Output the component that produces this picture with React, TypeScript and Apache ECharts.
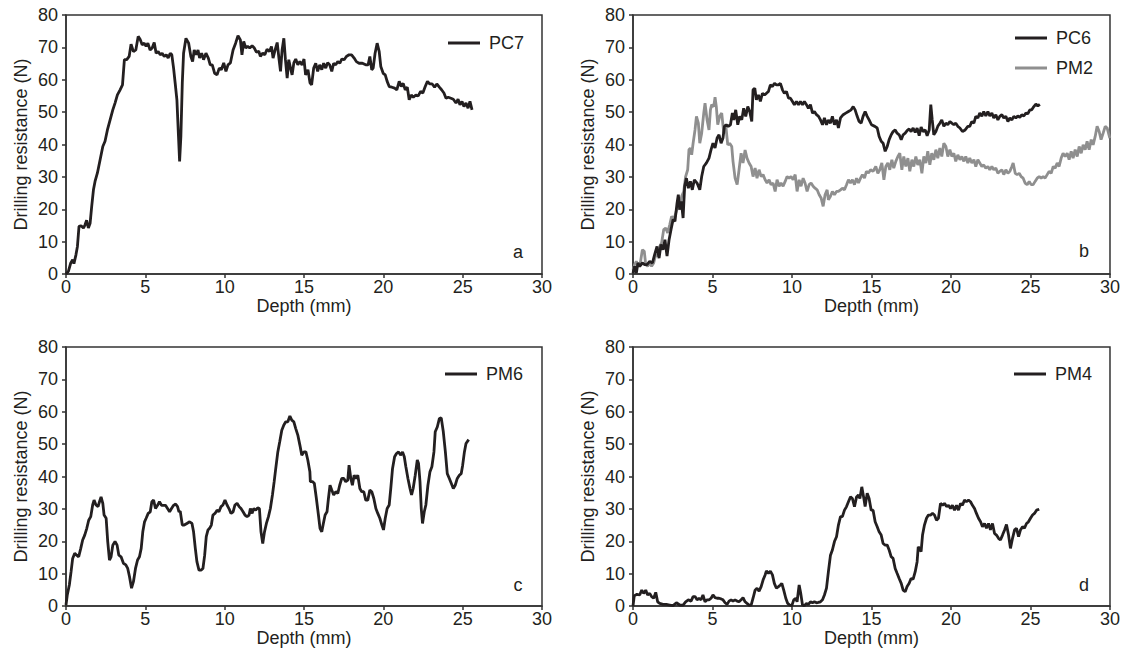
import React, { useEffect, useRef } from "react";
import * as echarts from "echarts";

// Depth (mm), drilling resistance (N)
const pc7: number[][] = [
  [0, 0], [0.15, 0.8], [0.3, 3.4], [0.42, 4.4], [0.5, 3.2], [0.63, 6], [0.72, 8.5], [0.82, 14.7], [0.95, 14.9],
  [1.1, 14.2], [1.2, 15.2], [1.3, 16.6], [1.41, 14.2], [1.52, 15.7], [1.62, 20.9], [1.73, 26], [1.83, 28.6],
  [1.98, 31.2], [2.15, 35.3], [2.32, 39.4], [2.46, 41], [2.61, 44.5], [2.78, 47.6], [2.95, 50.7], [3.09, 52.8],
  [3.24, 55.3], [3.41, 56.9], [3.56, 58.4], [3.68, 66.2], [3.83, 66.2], [3.98, 67.2], [4.1, 71], [4.25, 68.7],
  [4.4, 69.2], [4.55, 73.4], [4.67, 72.5], [4.8, 70.8], [4.93, 71.3], [5.05, 70.3], [5.16, 71.3], [5.3, 69.2],
  [5.43, 69.8], [5.56, 71.5], [5.68, 68.2], [5.81, 68.7], [5.94, 67.7], [6.06, 68.2], [6.19, 67.2], [6.32, 67.7],
  [6.44, 66.7], [6.57, 68.2], [6.67, 67.7], [6.78, 63.6], [6.88, 59], [6.99, 53.8], [7.09, 42.5], [7.16, 34.8],
  [7.24, 42.5], [7.33, 59], [7.41, 68.2], [7.56, 72.8], [7.73, 71.3], [7.87, 67.2], [7.98, 65.6], [8.08, 69.2],
  [8.21, 67.7], [8.32, 69.2], [8.42, 66.7], [8.55, 68.2], [8.67, 66.2], [8.82, 68.2], [8.97, 66.7], [9.09, 64.6],
  [9.22, 64.6], [9.37, 62], [9.52, 61.5], [9.66, 63.6], [9.79, 63.1], [9.94, 65.2], [10.08, 62.6], [10.21, 64.6],
  [10.36, 65.2], [10.53, 69.2], [10.69, 71.3], [10.84, 73.6], [10.99, 72.3], [11.09, 67.7], [11.2, 71.8],
  [11.33, 69.8], [11.45, 70.3], [11.58, 69.8], [11.73, 70.5], [11.87, 69.8], [12.0, 68.5], [12.15, 68.8],
  [12.25, 67.2], [12.4, 68.2], [12.53, 67.7], [12.67, 69.4], [12.82, 68.7], [12.95, 70.3], [13.05, 66.7],
  [13.18, 69.2], [13.31, 71.5], [13.43, 66.2], [13.52, 62.6], [13.62, 69.2], [13.73, 72.8], [13.83, 66.2],
  [13.94, 60.5], [14.04, 66.2], [14.15, 63.6], [14.25, 61.5], [14.36, 65.2], [14.48, 66.4], [14.61, 64.6],
  [14.74, 65.6], [14.88, 64.6], [15.0, 66.4], [15.1, 61.5], [15.25, 63.1], [15.38, 59], [15.48, 58.4],
  [15.61, 63.6], [15.74, 65.1], [15.86, 62.6], [15.99, 64.6], [16.12, 63.1], [16.24, 65.1], [16.37, 63.6],
  [16.49, 65.3], [16.62, 64.6], [16.75, 62.6], [16.87, 65.1], [17.0, 64.6], [17.13, 65.6], [17.26, 65.1],
  [17.38, 66.4], [17.53, 66.2], [17.67, 67.2], [17.84, 67.7], [18.0, 67.7], [18.16, 66.7], [18.3, 65.6],
  [18.47, 65.1], [18.68, 65.1], [18.89, 64.6], [19.04, 64.6], [19.15, 67.2], [19.27, 63.1], [19.36, 63.6],
  [19.48, 68.2], [19.61, 71.3], [19.74, 68.7], [19.84, 64.1], [19.99, 62], [20.12, 61.5], [20.24, 59.5],
  [20.37, 57.9], [20.54, 57.7], [20.71, 57.4], [20.85, 56.9], [21.0, 59.5], [21.13, 57.9], [21.25, 58.9],
  [21.38, 56.9], [21.51, 57.7], [21.63, 53.8], [21.76, 55.3], [21.89, 54.6], [22.05, 55.3], [22.2, 55],
  [22.35, 56.4], [22.49, 55.9], [22.64, 57.9], [22.78, 59.5], [22.93, 58.7], [23.08, 58.7], [23.23, 57.7],
  [23.37, 58.7], [23.53, 57.7], [23.67, 56.9], [23.82, 55.9], [23.95, 54.3], [24.09, 54.6], [24.26, 54.3],
  [24.41, 54], [24.58, 52.8], [24.71, 54], [24.83, 52.3], [24.96, 53.3], [25.08, 51.7], [25.21, 52.8],
  [25.34, 51.2], [25.46, 53.3], [25.59, 50.7],
];

const pc6: number[][] = [
  [0, 0.3], [0.1, 2.4], [0.21, 0.3], [0.31, 3.4], [0.42, 2.4], [0.59, 3.4], [0.73, 2.9], [0.88, 2.9], [1.05, 3.9],
  [1.22, 3.4], [1.36, 6], [1.51, 8.5], [1.64, 4.9], [1.76, 9.1], [1.89, 7.5], [2.01, 10.6], [2.14, 5.5],
  [2.27, 10.6], [2.39, 13.7], [2.52, 16.8], [2.64, 16.3], [2.77, 21.9], [2.85, 24.5], [2.94, 19.9], [3.04, 22.4],
  [3.15, 17.3], [3.25, 27.1], [3.36, 29.6], [3.48, 26.5], [3.61, 28.6], [3.73, 26], [3.86, 29.1], [4.03, 28.1],
  [4.2, 26], [4.32, 30.1], [4.45, 33.2], [4.62, 34.3], [4.78, 35.8], [4.91, 38.4], [5.03, 40.4], [5.16, 38.9],
  [5.29, 42], [5.41, 43], [5.54, 40.4], [5.66, 42], [5.75, 45.6], [5.87, 46.1], [5.99, 45.6], [6.13, 46.1],
  [6.25, 49.7], [6.34, 47.6], [6.46, 50.7], [6.59, 46.1], [6.71, 48.7], [6.84, 47.6], [6.96, 51.2], [7.09, 48.7],
  [7.22, 51.7], [7.34, 50.2], [7.47, 47.1], [7.55, 56.9], [7.66, 57.4], [7.76, 53.8], [7.89, 55.3], [8.01, 53.3],
  [8.14, 55.8], [8.27, 55.3], [8.39, 55.8], [8.52, 56.4], [8.64, 58.4], [8.77, 57.9], [8.9, 58.9], [9.02, 58.4],
  [9.15, 58.4], [9.27, 58.9], [9.4, 56.9], [9.52, 55.8], [9.65, 56.4], [9.78, 54.3], [9.9, 54.3], [10.03, 53.3],
  [10.15, 52.3], [10.28, 53.3], [10.41, 52.3], [10.53, 53.3], [10.66, 52.3], [10.78, 53.3], [10.91, 52.3],
  [11.03, 51.2], [11.16, 52.3], [11.29, 49.7], [11.41, 50.2], [11.54, 49.2], [11.67, 48.7], [11.79, 47.6],
  [11.92, 46.1], [12.04, 48.2], [12.17, 46.1], [12.29, 47.6], [12.42, 46.6], [12.54, 48.7], [12.67, 46.1],
  [12.8, 47.6], [12.92, 45.1], [13.05, 48.2], [13.22, 49.2], [13.38, 49.7], [13.55, 50.2], [13.72, 50.7],
  [13.85, 51.7], [13.97, 50.7], [14.1, 48.7], [14.22, 47.1], [14.35, 46.6], [14.47, 48.7], [14.6, 50.2],
  [14.73, 48.7], [14.85, 47.6], [15.0, 46.1], [15.21, 45.6], [15.36, 45.1], [15.48, 42.5], [15.61, 41],
  [15.73, 40.4], [15.86, 37.9], [15.99, 39.4], [16.11, 41.5], [16.24, 43], [16.36, 44], [16.49, 44.5],
  [16.61, 43.5], [16.74, 43], [16.87, 41.5], [16.99, 43], [17.12, 43.5], [17.24, 44.3], [17.37, 44.8],
  [17.49, 44], [17.62, 45.1], [17.75, 43.7], [17.87, 45.1], [18.0, 42.7], [18.12, 45.4], [18.25, 44],
  [18.38, 44.5], [18.5, 42.7], [18.63, 44.5], [18.73, 52.3], [18.82, 47.6], [18.92, 43], [19.05, 44],
  [19.17, 45.6], [19.3, 46.6], [19.42, 47.6], [19.55, 45.6], [19.68, 46.6], [19.8, 46.1], [19.93, 47.1],
  [20.05, 46.6], [20.18, 46.1], [20.3, 46.6], [20.43, 45.6], [20.56, 45.1], [20.72, 44], [20.89, 44.5],
  [21.06, 45.6], [21.18, 45.6], [21.31, 47.1], [21.44, 46.6], [21.56, 48.7], [21.69, 48.2], [21.81, 49.7],
  [21.94, 48.7], [22.06, 50.2], [22.19, 48.8], [22.32, 50.2], [22.44, 48.8], [22.57, 49.7], [22.69, 48.2],
  [22.82, 49.2], [22.95, 47.6], [23.07, 48.7], [23.2, 49.2], [23.32, 48.2], [23.45, 48.7], [23.58, 47.1],
  [23.7, 48.2], [23.83, 47.6], [23.95, 48.7], [24.08, 48.2], [24.2, 48.8], [24.33, 48.4], [24.45, 49.2],
  [24.58, 48.8], [24.71, 49.7], [24.83, 49.5], [24.96, 50.7], [25.08, 50.7], [25.21, 51.7], [25.34, 52.5],
  [25.46, 51.9], [25.59, 52.4],
];

const pm2: number[][] = [
  [0, 1.3], [0.1, 2.9], [0.21, 3.9], [0.34, 2.4], [0.46, 3.4], [0.59, 7.5], [0.71, 7], [0.8, 2.9], [0.92, 2.4],
  [1.05, 3.4], [1.17, 2.4], [1.3, 3.4], [1.43, 6], [1.55, 5.5], [1.68, 8.5], [1.8, 9.6], [1.93, 13.7],
  [2.06, 14.2], [2.18, 12.7], [2.31, 15.2], [2.43, 17.8], [2.56, 16.8], [2.69, 18.8], [2.81, 20.9], [2.94, 19.9],
  [3.06, 24], [3.19, 25.5], [3.31, 30.1], [3.44, 32.2], [3.52, 38.4], [3.61, 38.9], [3.69, 36.8], [3.78, 40.4],
  [3.9, 44.5], [3.99, 48.7], [4.11, 46.6], [4.2, 40.4], [4.32, 43.5], [4.45, 49.7], [4.53, 52.8], [4.66, 47.6],
  [4.78, 44.5], [4.87, 50.7], [4.95, 52.3], [5.08, 51.7], [5.16, 54.6], [5.24, 51.7], [5.33, 46.1], [5.45, 48.7],
  [5.58, 49.7], [5.71, 43.5], [5.83, 46.1], [5.96, 39.9], [6.08, 40.4], [6.21, 39.4], [6.29, 34.8], [6.42, 29.6],
  [6.55, 27.6], [6.67, 32.2], [6.8, 37.3], [6.92, 34.3], [7.05, 38.3], [7.17, 35.8], [7.3, 34.3], [7.43, 33.2],
  [7.55, 30.1], [7.68, 32.7], [7.8, 29.6], [7.93, 32.2], [8.06, 30.1], [8.18, 30.7], [8.31, 29.1], [8.43, 28.1],
  [8.56, 29.1], [8.68, 27.6], [8.81, 28.1], [8.94, 25.5], [9.06, 29.1], [9.19, 27.1], [9.31, 28.1], [9.44, 27.1],
  [9.57, 28.6], [9.69, 30.1], [9.82, 29.6], [9.94, 30.1], [10.07, 29.1], [10.2, 30.7], [10.32, 25.5],
  [10.45, 29.1], [10.57, 27.1], [10.7, 29.6], [10.82, 28.1], [10.95, 25.5], [11.08, 27.6], [11.2, 28.1],
  [11.33, 27.1], [11.45, 26.5], [11.58, 26], [11.71, 24.5], [11.83, 23.5], [11.96, 20.9], [12.08, 24.5],
  [12.21, 26], [12.29, 22.9], [12.42, 24], [12.54, 25.5], [12.67, 24.5], [12.8, 25.5], [12.92, 25.5],
  [13.05, 26], [13.17, 26.5], [13.3, 26], [13.43, 27.6], [13.55, 29.1], [13.68, 28.1], [13.8, 29.1],
  [13.93, 27.6], [14.06, 29.6], [14.18, 28.1], [14.31, 29.6], [14.43, 30.7], [14.56, 29.6], [14.68, 31.7],
  [14.81, 31.2], [14.94, 32.2], [15.1, 31.7], [15.27, 33.2], [15.4, 31.1], [15.52, 32.2], [15.65, 34.3],
  [15.78, 29.1], [15.9, 33.2], [16.03, 34.3], [16.15, 32.2], [16.28, 35.3], [16.4, 32.7], [16.53, 34.8],
  [16.66, 36.3], [16.78, 37.3], [16.91, 32.2], [17.03, 36.3], [17.16, 33.2], [17.29, 35.8], [17.41, 31.7],
  [17.54, 35.3], [17.66, 33.2], [17.79, 36.3], [17.91, 33.7], [18.04, 35.3], [18.17, 31.1], [18.29, 36.3],
  [18.42, 34.3], [18.54, 37.9], [18.67, 33.7], [18.79, 37.3], [18.92, 35.3], [19.05, 38.4], [19.17, 35.8],
  [19.3, 38.9], [19.42, 36.3], [19.55, 40.4], [19.68, 39.4], [19.8, 36.3], [19.93, 38.4], [20.05, 36.3],
  [20.18, 37.3], [20.3, 34.8], [20.43, 36.8], [20.56, 35.3], [20.68, 36.3], [20.81, 34.8], [20.93, 36.3],
  [21.06, 34.3], [21.18, 35.8], [21.31, 34.3], [21.44, 35.3], [21.56, 33.2], [21.69, 35.3], [21.81, 34.3],
  [21.94, 33.2], [22.06, 33.7], [22.19, 32.7], [22.32, 33.2], [22.44, 32.2], [22.57, 33.2], [22.69, 32.2],
  [22.82, 32.7], [22.95, 31.1], [23.07, 31.7], [23.2, 32.2], [23.32, 30.7], [23.45, 32.2], [23.58, 31.1],
  [23.7, 31.7], [23.83, 33.2], [23.91, 34.3], [24.04, 31.1], [24.16, 30.7], [24.29, 31.1], [24.41, 30.1],
  [24.54, 29.6], [24.66, 28.1], [24.79, 27.6], [24.92, 28.6], [25.04, 27.6], [25.17, 27.6], [25.29, 28.6],
  [25.42, 29.6], [25.55, 30.1], [25.67, 29.6], [25.8, 30.1], [25.92, 29.6], [26.05, 30.7], [26.17, 31.7],
  [26.3, 31.1], [26.43, 33.2], [26.55, 32.7], [26.68, 34.3], [26.8, 33.2], [26.93, 35.8], [27.05, 37.3],
  [27.18, 36.3], [27.31, 37.3], [27.43, 35.3], [27.56, 37.9], [27.68, 35.8], [27.81, 38.4], [27.94, 36.3],
  [28.06, 39.4], [28.19, 37.3], [28.31, 39.9], [28.44, 38.4], [28.56, 41], [28.69, 38.4], [28.82, 41.5],
  [28.94, 39.9], [29.07, 42.5], [29.19, 45.6], [29.32, 44], [29.44, 41.5], [29.57, 43.5], [29.7, 45.6],
  [29.82, 45.1], [29.99, 42],
];

const pm6: number[][] = [
  [0, 0.3], [0.08, 3.4], [0.21, 6.5], [0.32, 10.6], [0.42, 14.7], [0.55, 16.3], [0.67, 15.7], [0.8, 15.2],
  [0.93, 17.8], [1.05, 20.4], [1.18, 21.9], [1.31, 24], [1.43, 26.5], [1.56, 27.6], [1.68, 31.2], [1.77, 32.7],
  [1.89, 31.2], [2.02, 30.7], [2.11, 32.2], [2.21, 33.7], [2.32, 31.7], [2.4, 28.1], [2.53, 27.1], [2.63, 19.9],
  [2.74, 14.2], [2.84, 15.2], [2.95, 18.8], [3.09, 19.9], [3.22, 18.8], [3.33, 15.7], [3.47, 15.2], [3.62, 13.2],
  [3.77, 12.7], [3.89, 11.6], [4.0, 9.1], [4.13, 5.5], [4.25, 7.5], [4.38, 11.6], [4.51, 14.2], [4.63, 15.2],
  [4.74, 17.8], [4.84, 22.9], [4.95, 26], [5.05, 27.1], [5.18, 28.6], [5.31, 29.1], [5.41, 32.2], [5.52, 32.7],
  [5.64, 30.1], [5.77, 31.1], [5.89, 32.2], [6.02, 31.1], [6.15, 31.1], [6.27, 31.1], [6.4, 30.1], [6.53, 29.1],
  [6.65, 30.1], [6.78, 31.1], [6.91, 31.5], [7.03, 30.7], [7.12, 29.1], [7.2, 29.3], [7.33, 25], [7.45, 25],
  [7.62, 25.5], [7.79, 26], [7.94, 25.5], [8.04, 22.9], [8.15, 17.8], [8.25, 13.7], [8.38, 11.1], [8.51, 11.1],
  [8.63, 11.6], [8.74, 15.7], [8.84, 21.4], [8.95, 23.5], [9.05, 24], [9.16, 25], [9.26, 28.1], [9.39, 28.6],
  [9.52, 29.6], [9.64, 29.1], [9.77, 30.7], [9.89, 31.2], [10.02, 32.7], [10.15, 31.2], [10.27, 30.1],
  [10.4, 28.6], [10.53, 29.1], [10.65, 31.2], [10.78, 31.7], [10.91, 30.7], [11.03, 30.1], [11.16, 29.1],
  [11.28, 28.1], [11.41, 27.6], [11.54, 28.1], [11.62, 30.1], [11.73, 28.6], [11.83, 30.1], [11.96, 29.6],
  [12.08, 30.3], [12.19, 30.1], [12.29, 22.9], [12.4, 19.3], [12.51, 22.9], [12.63, 25.5], [12.76, 27.6],
  [12.88, 30.1], [13.01, 34.3], [13.12, 38.4], [13.22, 42.5], [13.35, 47.6], [13.47, 50.7], [13.6, 54.3],
  [13.73, 55.9], [13.85, 56.9], [13.98, 56.9], [14.11, 58.7], [14.23, 57.4], [14.36, 56.9], [14.48, 54.8],
  [14.61, 52.8], [14.74, 49.7], [14.86, 46.6], [14.99, 47.6], [15.12, 47.6], [15.24, 45.1], [15.37, 41.5],
  [15.4, 38.4], [15.53, 38.4], [15.65, 37.9], [15.78, 33.2], [15.91, 28.1], [16.01, 24], [16.12, 22.9],
  [16.22, 25.5], [16.33, 28.1], [16.45, 29.1], [16.54, 33.2], [16.64, 37.3], [16.75, 35.8], [16.87, 34.3],
  [17.0, 35.3], [17.13, 34.8], [17.25, 37.3], [17.38, 39.4], [17.51, 39.4], [17.63, 38.4], [17.76, 38.9],
  [17.84, 43.5], [17.95, 39.4], [18.05, 37.3], [18.16, 40.4], [18.26, 39.4], [18.39, 40.4], [18.52, 36.3],
  [18.64, 35.3], [18.77, 35.3], [18.89, 32.7], [19.02, 32.7], [19.15, 35.8], [19.27, 35.3], [19.4, 33.2],
  [19.53, 30.1], [19.65, 28.6], [19.78, 27.1], [19.91, 25], [20.01, 23.5], [20.12, 27.1], [20.24, 30.1],
  [20.37, 31.2], [20.47, 36.3], [20.58, 42.5], [20.71, 46.1], [20.83, 47.1], [20.96, 47.6], [21.08, 46.6],
  [21.21, 47.6], [21.32, 46.1], [21.42, 43], [21.55, 39.4], [21.68, 36.3], [21.78, 34.3], [21.88, 36.3],
  [22.01, 40.4], [22.14, 45.1], [22.22, 44], [22.31, 38.4], [22.39, 30.1], [22.47, 25.5], [22.58, 29.1],
  [22.68, 31.2], [22.81, 37.3], [22.94, 41.5], [23.06, 43], [23.19, 47.6], [23.27, 53.8], [23.4, 55.3],
  [23.53, 57.9], [23.65, 58.1], [23.78, 53.8], [23.91, 47.6], [24.03, 40.9], [24.16, 39.4], [24.28, 37.9],
  [24.41, 36.3], [24.53, 37.3], [24.66, 39.4], [24.79, 40.4], [24.91, 40.9], [25.0, 43.5], [25.11, 47.6],
  [25.21, 50.2], [25.38, 51.4],
];

const pm4: number[][] = [
  [0, 0], [0.08, 3.2], [0.25, 3.6], [0.42, 3.4], [0.55, 4.9], [0.67, 3.9], [0.8, 4.9], [0.92, 3.4], [1.05, 3.9],
  [1.17, 2.9], [1.3, 2.4], [1.43, 4.2], [1.55, 1.3], [1.68, 0.8], [1.89, 0.5], [2.1, 0.5], [2.31, 0.3],
  [2.52, 0.1], [2.73, 1], [2.94, 0.3], [3.15, 0.3], [3.31, 1.3], [3.48, 1.9], [3.65, 1.5], [3.78, 2.9],
  [3.9, 2.9], [4.03, 1.9], [4.15, 2.4], [4.28, 1.9], [4.4, 3.4], [4.53, 1.3], [4.66, 1.9], [4.78, 1.9],
  [4.91, 2.4], [5.03, 3.4], [5.16, 2.6], [5.29, 2.4], [5.41, 2.4], [5.54, 2.2], [5.66, 1.9], [5.79, 1],
  [5.92, 0.5], [6.04, 1.5], [6.17, 1.9], [6.29, 1.5], [6.42, 1.9], [6.55, 1.5], [6.67, 1.3], [6.8, 1.9],
  [6.92, 2.6], [7.05, 1.3], [7.17, 0.8], [7.3, 0.3], [7.43, 0.3], [7.55, 2.4], [7.68, 4.9], [7.8, 5.5],
  [7.93, 4.6], [8.06, 6], [8.18, 8], [8.31, 9.6], [8.39, 10.8], [8.52, 10.1], [8.64, 10.8], [8.77, 9.6],
  [8.89, 7], [9.02, 5.5], [9.15, 6], [9.27, 6.5], [9.36, 7], [9.48, 4.9], [9.61, 2.4], [9.73, 0.8], [9.86, 0.3],
  [9.99, 0.1], [10.11, 1.9], [10.24, 2.4], [10.32, 1.3], [10.45, 6.5], [10.55, 3.9], [10.66, 0.3], [10.78, 0.1],
  [10.91, 0.8], [11.03, 0.5], [11.16, 1.3], [11.29, 1], [11.41, 1.3], [11.54, 1], [11.66, 1.1], [11.79, 1.3],
  [11.92, 1.9], [12.04, 3.4], [12.17, 5.5], [12.29, 10.6], [12.42, 15.7], [12.54, 17.3], [12.67, 19.9],
  [12.8, 21.4], [12.92, 25], [13.05, 27.6], [13.17, 27.6], [13.3, 29.6], [13.43, 30.7], [13.55, 32.2],
  [13.68, 33.7], [13.8, 33.2], [13.93, 30.7], [14.06, 33.7], [14.18, 34.3], [14.27, 33.2], [14.39, 36.8],
  [14.52, 33.2], [14.6, 30.7], [14.73, 34.8], [14.85, 33.2], [14.98, 29.6], [15.1, 29.6], [15.23, 26],
  [15.36, 24.5], [15.48, 22.9], [15.61, 21.9], [15.73, 19.3], [15.86, 18.8], [15.99, 18.8], [16.11, 17.3],
  [16.24, 15.2], [16.36, 14.7], [16.49, 11.6], [16.61, 10.1], [16.74, 8.5], [16.87, 7], [16.99, 4.9],
  [17.12, 4.4], [17.24, 6], [17.37, 7], [17.49, 8.5], [17.62, 8.3], [17.75, 10.6], [17.87, 13.7], [17.94, 18.3],
  [18.0, 17.8], [18.12, 16.8], [18.21, 21.9], [18.33, 25], [18.46, 27.1], [18.58, 28.1], [18.71, 28.1],
  [18.84, 28.6], [18.96, 28.1], [19.09, 26.5], [19.21, 27.1], [19.34, 31.7], [19.47, 31.1], [19.59, 31.7],
  [19.72, 30.7], [19.84, 31.1], [19.97, 30.1], [20.09, 31.1], [20.22, 29.6], [20.35, 31.1], [20.47, 29.6],
  [20.6, 31.7], [20.72, 31.1], [20.85, 32.7], [20.97, 32.2], [21.1, 32.7], [21.23, 32.2], [21.35, 31.1],
  [21.48, 30.1], [21.6, 28.6], [21.73, 27.1], [21.86, 26], [21.98, 24.5], [22.11, 25.5], [22.23, 24],
  [22.36, 25.5], [22.48, 23.5], [22.61, 25.5], [22.74, 22.4], [22.86, 21.9], [22.99, 20.9], [23.11, 20.4],
  [23.24, 21.9], [23.37, 23.5], [23.49, 25.2], [23.62, 21.9], [23.74, 17.8], [23.87, 20.9], [24.0, 23.5],
  [24.12, 24], [24.25, 21.4], [24.37, 23.5], [24.5, 24.5], [24.62, 24], [24.75, 25.5], [24.87, 26], [25.0, 27.1],
  [25.13, 28.1], [25.25, 28.6], [25.38, 29.6], [25.55, 29.9],
];

const panelLetters = ["a", "b", "c", "d"];
const xName = "Depth (mm)";
const yName = "Drilling resistance (N)";

const FONT = "'Liberation Sans', Arial, sans-serif";
const TXT = "#231f20";
const AX = "#333333";
const DARK = "#231f20";
const GRAY = "#8f8f8f";
const FS = 18;

const grids = [
  { left: 66, top: 15, width: 476, height: 259 },
  { left: 633, top: 15, width: 477, height: 259 },
  { left: 66, top: 347, width: 476, height: 259 },
  { left: 633, top: 347, width: 477, height: 259 },
];

export default function App() {
  const ref = useRef<HTMLDivElement>(null);
  useEffect(() => {
    if (!ref.current) return;
    const chart = echarts.init(ref.current, null, { renderer: "svg" });
    const xAxes = grids.map((_, i) => ({
      type: "value",
      gridIndex: i,
      min: 0,
      max: 30,
      interval: 5,
      name: xName,
      nameLocation: "middle",
      nameGap: 22,
      nameTextStyle: { fontFamily: FONT, fontSize: FS, color: TXT },
      axisLine: { show: true, lineStyle: { color: AX, width: 1.5 } },
      axisTick: { show: true, inside: false, length: 4, lineStyle: { color: AX, width: 1.5 } },
      axisLabel: { fontFamily: FONT, fontSize: FS, color: TXT, margin: 4 },
      splitLine: { show: false },
    }));
    const yAxes = grids.map((_, i) => ({
      type: "value",
      gridIndex: i,
      min: 0,
      max: 80,
      interval: 10,
      name: yName,
      nameLocation: "middle",
      nameGap: 36,
      nameTextStyle: { fontFamily: FONT, fontSize: FS, color: TXT },
      axisLine: { show: true, lineStyle: { color: AX, width: 1.5 } },
      axisTick: { show: true, inside: false, length: 4, lineStyle: { color: AX, width: 1.5 } },
      axisLabel: { fontFamily: FONT, fontSize: FS, color: TXT, margin: 8 },
      splitLine: { show: false },
    }));
    const mk = (name: string, data: number[][], idx: number, color: string) => ({
      type: "line",
      name,
      data,
      xAxisIndex: idx,
      yAxisIndex: idx,
      symbol: "none",
      showSymbol: false,
      lineStyle: { color, width: 2.8 },
      itemStyle: { color },
      z: name === "PC6" ? 3 : 2,
    });
    const legendBase = {
      orient: "vertical",
      padding: 0,
      icon: "rect",
      itemWidth: 32,
      itemHeight: 3,
      itemGap: 12,
      textStyle: { fontFamily: FONT, fontSize: FS, color: TXT, padding: [0, 0, 0, 4] },
    };
    const letterPos = [
      [518, 252],
      [1084, 251],
      [518, 585],
      [1084, 585],
    ];
    chart.setOption({
      animation: false,
      backgroundColor: "#ffffff",
      grid: grids.map((g) => ({
        ...g,
        show: true,
        borderColor: AX,
        borderWidth: 1.5,
        backgroundColor: "transparent",
        containLabel: false,
      })),
      xAxis: xAxes,
      yAxis: yAxes,
      legend: [
        { ...legendBase, left: 448, top: 34, data: ["PC7"] },
        { ...legendBase, left: 1015, top: 29, data: ["PC6", "PM2"] },
        { ...legendBase, left: 445, top: 365, data: ["PM6"] },
        { ...legendBase, left: 1014, top: 365, data: ["PM4"] },
      ],
      series: [
        mk("PC7", pc7, 0, DARK),
        mk("PM2", pm2, 1, GRAY),
        mk("PC6", pc6, 1, DARK),
        mk("PM6", pm6, 2, DARK),
        mk("PM4", pm4, 3, DARK),
      ],
      graphic: panelLetters.map((t, i) => ({
        type: "text",
        x: letterPos[i][0],
        y: letterPos[i][1],
        style: {
          text: t,
          fontFamily: FONT,
          fontSize: FS,
          fill: TXT,
          textAlign: "center",
          textVerticalAlign: "middle",
        },
      })),
    });
    return () => chart.dispose();
  }, []);
  return (
    <div
      ref={ref}
      style={{ position: "fixed", left: 0, top: 0, width: 1123, height: 654, background: "#fff" }}
    />
  );
}
